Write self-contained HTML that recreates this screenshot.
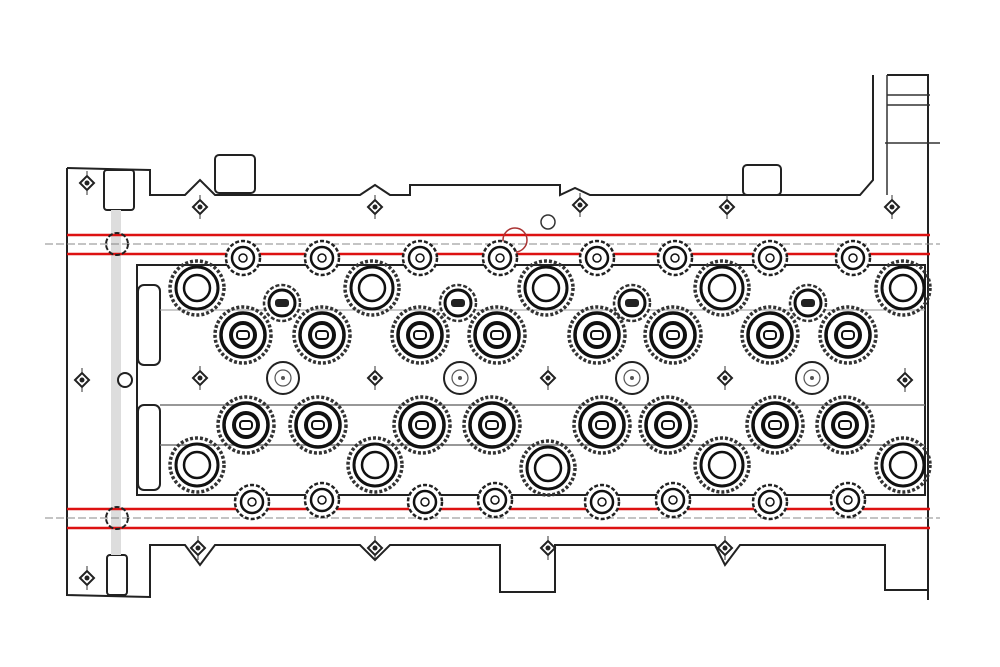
<!DOCTYPE html>
<html><head><meta charset="utf-8"><style>html,body{margin:0;padding:0;background:#fff;}svg{display:block}</style></head>
<body>
<svg width="1000" height="667" viewBox="0 0 1000 667" xmlns="http://www.w3.org/2000/svg">
<defs>
<g id="big"><circle r="27" fill="none" stroke="#333" stroke-width="3.5" stroke-dasharray="3 2"/><circle r="21" fill="#fff" stroke="#111" stroke-width="3"/><circle r="13" fill="none" stroke="#111" stroke-width="2.5"/></g>
<g id="valve"><circle r="28" fill="none" stroke="#333" stroke-width="3.5" stroke-dasharray="3 2"/><circle r="22" fill="#fff" stroke="#111" stroke-width="3.5"/><circle r="12" fill="none" stroke="#111" stroke-width="4"/><rect x="-6" y="-4" width="12" height="8" rx="3" fill="none" stroke="#111" stroke-width="2"/></g>
<g id="small"><circle r="17" fill="#fff" stroke="#222" stroke-width="2.5" stroke-dasharray="4 2"/><circle r="11" fill="none" stroke="#111" stroke-width="2.5"/><circle r="4" fill="none" stroke="#111" stroke-width="1.5"/></g>
<g id="plug"><circle r="18" fill="#fff" stroke="#333" stroke-width="2.5" stroke-dasharray="4 2"/><circle r="13" fill="none" stroke="#111" stroke-width="3"/><rect x="-7" y="-4" width="14" height="8" rx="3" fill="#222"/></g>
<g id="bolt"><circle r="16" fill="#fff" stroke="#222" stroke-width="2"/><circle r="8" fill="none" stroke="#555" stroke-width="1.2"/><circle r="2" fill="#555"/></g>
<g id="tiny"><line x1="0" y1="-12" x2="0" y2="12" stroke="#333" stroke-width="1"/><path d="M-7 0 L0 -7 L7 0 L0 7 Z" fill="#fff" stroke="#222" stroke-width="2"/><circle r="2.5" fill="#222"/></g>
</defs>

<g fill="none" stroke="#222" stroke-width="2">
<path d="M67 168 L150 170 L150 195 L185 195 L200 180 L215 195 L360 195 L375 185 L390 195 L410 195 L410 185 L560 185 L560 195 L575 188 L590 195 L860 195 L873 180 L873 75"/>
<path d="M887 75 L928 75 L928 600"/>
<path d="M67 168 L67 595 L150 597 L150 545 L185 545 L200 565 L215 545 L360 545 L375 560 L390 545 L500 545 L500 592 L555 592 L555 545 L715 545 L725 565 L740 545 L885 545 L885 590 L928 590"/>
<rect x="215" y="155" width="40" height="38" rx="4"/>
<rect x="743" y="165" width="38" height="30" rx="4"/>
<rect x="104" y="170" width="30" height="40" rx="3"/>
<rect x="107" y="555" width="20" height="40" rx="3"/>
</g>
<rect x="111" y="210" width="10" height="345" fill="#ddd"/>
<line x1="887" y1="75" x2="887" y2="195" stroke="#333" stroke-width="1.5"/>
<line x1="887" y1="95" x2="930" y2="95" stroke="#333" stroke-width="1.5"/>
<line x1="887" y1="105" x2="930" y2="105" stroke="#333" stroke-width="1.5"/>
<line x1="885" y1="143" x2="940" y2="143" stroke="#333" stroke-width="1.5"/>

<g fill="none" stroke="#222" stroke-width="2">
<path d="M137 265 L925 265 L925 495 L137 495 Z"/>
<rect x="138" y="285" width="22" height="80" rx="6"/>
<rect x="138" y="405" width="22" height="85" rx="6"/>
<line x1="160" y1="405" x2="925" y2="405" stroke="#777" stroke-width="1.5"/>
<line x1="160" y1="445" x2="925" y2="445" stroke="#777" stroke-width="1.5"/>
<line x1="160" y1="310" x2="925" y2="310" stroke="#999" stroke-width="1"/>
</g>

<line x1="45" y1="244" x2="940" y2="244" stroke="#888" stroke-width="1" stroke-dasharray="8 3"/>
<line x1="45" y1="518" x2="940" y2="518" stroke="#888" stroke-width="1" stroke-dasharray="8 3"/>
<line x1="67" y1="235" x2="930" y2="235" stroke="#d11" stroke-width="2.5"/>
<line x1="67" y1="254" x2="930" y2="254" stroke="#d11" stroke-width="2.5"/>
<line x1="67" y1="509" x2="930" y2="509" stroke="#d11" stroke-width="2.5"/>
<line x1="67" y1="528" x2="930" y2="528" stroke="#d11" stroke-width="2.5"/>
<circle cx="117" cy="244" r="11" fill="none" stroke="#222" stroke-width="2" stroke-dasharray="5 2"/>
<circle cx="117" cy="518" r="11" fill="none" stroke="#222" stroke-width="2" stroke-dasharray="5 2"/>
<circle cx="548" cy="222" r="7" fill="#fff" stroke="#333" stroke-width="1.5"/>
<circle cx="515" cy="240" r="12" fill="none" stroke="#a33" stroke-width="1.5"/>

<use href="#tiny" x="87" y="183"/><use href="#tiny" x="200" y="207"/><use href="#tiny" x="375" y="207"/><use href="#tiny" x="580" y="205"/><use href="#tiny" x="727" y="207"/><use href="#tiny" x="892" y="207"/>
<use href="#tiny" x="87" y="578"/><use href="#tiny" x="198" y="548"/><use href="#tiny" x="375" y="548"/><use href="#tiny" x="548" y="548"/><use href="#tiny" x="725" y="548"/>
<use href="#tiny" x="82" y="380"/><use href="#tiny" x="200" y="378"/><use href="#tiny" x="375" y="378"/><use href="#tiny" x="548" y="378"/><use href="#tiny" x="725" y="378"/><use href="#tiny" x="905" y="380"/>
<circle cx="125" cy="380" r="7" fill="#fff" stroke="#222" stroke-width="2"/>

<use href="#small" x="243" y="258"/><use href="#small" x="322" y="258"/><use href="#small" x="420" y="258"/><use href="#small" x="500" y="258"/><use href="#small" x="597" y="258"/><use href="#small" x="675" y="258"/><use href="#small" x="770" y="258"/><use href="#small" x="853" y="258"/>
<use href="#small" x="252" y="502"/><use href="#small" x="322" y="500"/><use href="#small" x="425" y="502"/><use href="#small" x="495" y="500"/><use href="#small" x="602" y="502"/><use href="#small" x="673" y="500"/><use href="#small" x="770" y="502"/><use href="#small" x="848" y="500"/>

<use href="#big" x="197" y="288"/><use href="#big" x="372" y="288"/><use href="#big" x="546" y="288"/><use href="#big" x="722" y="288"/><use href="#big" x="903" y="288"/>
<use href="#big" x="197" y="465"/><use href="#big" x="375" y="465"/><use href="#big" x="548" y="468"/><use href="#big" x="722" y="465"/><use href="#big" x="903" y="465"/>

<use href="#plug" x="282" y="303"/><use href="#plug" x="458" y="303"/><use href="#plug" x="632" y="303"/><use href="#plug" x="808" y="303"/>

<use href="#valve" x="243" y="335"/><use href="#valve" x="322" y="335"/><use href="#valve" x="420" y="335"/><use href="#valve" x="497" y="335"/><use href="#valve" x="597" y="335"/><use href="#valve" x="673" y="335"/><use href="#valve" x="770" y="335"/><use href="#valve" x="848" y="335"/>
<use href="#valve" x="246" y="425"/><use href="#valve" x="318" y="425"/><use href="#valve" x="422" y="425"/><use href="#valve" x="492" y="425"/><use href="#valve" x="602" y="425"/><use href="#valve" x="668" y="425"/><use href="#valve" x="775" y="425"/><use href="#valve" x="845" y="425"/>

<use href="#bolt" x="283" y="378"/><use href="#bolt" x="460" y="378"/><use href="#bolt" x="632" y="378"/><use href="#bolt" x="812" y="378"/>
</svg>
</body></html>
